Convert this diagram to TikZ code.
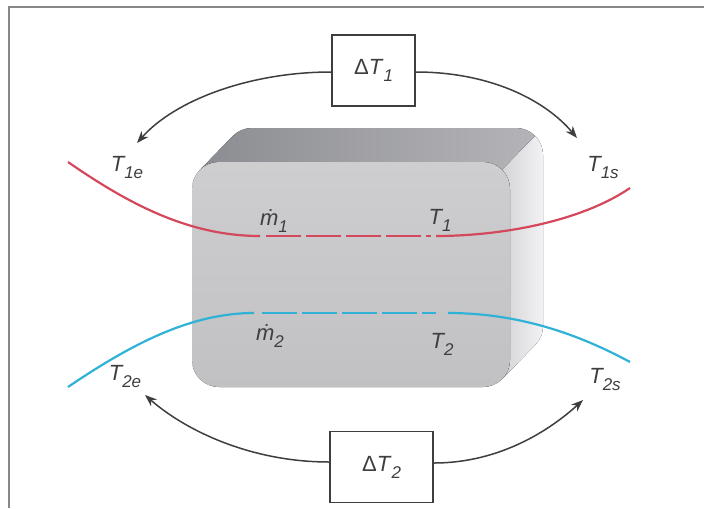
\documentclass[tikz,border=0pt]{standalone}
\usepackage{fontspec}
\setmainfont{Liberation Sans}
\usetikzlibrary{arrows.meta}

\definecolor{flowred}{RGB}{212,72,92}
\definecolor{flowblue}{RGB}{48,178,214}
\definecolor{ink}{RGB}{62,62,64}
\definecolor{framegray}{RGB}{135,135,138}

% lowered index, a bit larger than \textsubscript
\newcommand{\lsub}[1]{\raisebox{-3.5pt}{\fontsize{8.5}{10}\selectfont #1}}

\begin{document}
\begin{tikzpicture}[x=0.5pt, y=-0.5pt,
    lbl/.style={text=ink, inner sep=0pt, font=\fontsize{11}{13}\selectfont\itshape},
    dbox/.style={draw=ink, line width=0.7pt, fill=white, text=ink, inner sep=0pt,
      minimum height=35.5pt, font=\fontsize{11}{13}\selectfont},
    loop/.style={draw=ink, line width=0.75pt, -{Stealth[length=6pt,width=4.5pt]}},
    stream/.style={line width=1.1pt},
    topface/.style={left color={rgb,255:red,140;green,141;blue,146}, right color={rgb,255:red,180;green,180;blue,184}},
    sideface/.style={left color={rgb,255:red,212;green,212;blue,215}, right color={rgb,255:red,242;green,242;blue,244}},
    frontface/.style={top color={rgb,255:red,206;green,206;blue,208}, bottom color={rgb,255:red,193;green,193;blue,196}}]

  \useasboundingbox (0,0) rectangle (704,508);

  % open frame, top and left only
  \draw[framegray, line width=1pt] (9,508) -- (9,7) -- (704,7);

  % the exchanger block (y runs down, so arc angles run clockwise)
  \fill[topface] (199.6,170.2) -- (232.6,136.2) arc[start angle=224.2, end angle=270, radius=27]
    -- (516,128) arc[start angle=270, end angle=315, radius=27]
    -- (502.1,169.9) arc[start angle=315, end angle=270, radius=27]
    -- (219,162) arc[start angle=270, end angle=224.2, radius=27] -- cycle;
  \fill[sideface] (535.1,135.9) arc[start angle=315, end angle=360, radius=27]
    -- (543,326) arc[start angle=0, end angle=44.2, radius=27]
    -- (502.4,378.8) arc[start angle=44.2, end angle=0, radius=27]
    -- (510,189) arc[start angle=360, end angle=315, radius=27] -- cycle;
  \fill[frontface, rounded corners=13.5pt] (192,162) rectangle (510,387);

  % hot stream
  \draw[flowred, stream] (68,162) .. controls (130,205) and (190,236) .. (260,236);
  \draw[flowred, stream, dash pattern=on 17.5pt off 2.5pt] (266,236) -- (431,236);
  \draw[flowred, stream] (436,236) .. controls (500,236) and (580,222) .. (630,188);

  % cold stream
  \draw[flowblue, stream] (68,387) .. controls (130,345) and (190,313) .. (254,313);
  \draw[flowblue, stream, dash pattern=on 17.5pt off 2.5pt] (262,313) -- (436,313);
  \draw[flowblue, stream] (448,313) .. controls (520,313) and (580,335) .. (630,362);

  % labels
  \node[lbl] (m1) at (274,221) {\.{m}\lsub{1}};
  \node[lbl] (T1) at (440,220) {T\lsub{1}};
  \node[lbl] (m2) at (270,336) {\.{m}\lsub{2}};
  \node[lbl] (T2) at (442,344) {T\lsub{2}};
  \node[lbl] (T1e) at (127,168) {T\lsub{1e}};
  \node[lbl] (T1s) at (603,168) {T\lsub{1s}};
  \node[lbl] (T2e) at (125,377) {T\lsub{2e}};
  \node[lbl] (T2s) at (605,380) {T\lsub{2s}};

  % temperature differences
  \node[dbox, minimum width=41.5pt] (dT1) at (373.5,70.5) {Δ\textit{T}\lsub{\textit{1}}};
  \node[dbox, minimum width=51.5pt] (dT2) at (381.5,467) {Δ\textit{T}\lsub{\textit{2}}};

  \coordinate (tip1e) at (137,143);
  \coordinate (tip1s) at (577,138);
  \coordinate (tip2e) at (145,395);
  \coordinate (tip2s) at (583,400);

  \draw[loop] (dT1.west |- 0,72) .. controls (250,72) and (175,100) .. (tip1e);
  \draw[loop] (dT1.east |- 0,72) .. controls (490,72) and (545,100) .. (tip1s);
  \draw[loop] (dT2.west |- 0,462) .. controls (250,462) and (185,430) .. (tip2e);
  \draw[loop] (dT2.east |- 0,463) .. controls (500,463) and (550,430) .. (tip2s);
\end{tikzpicture}
\end{document}
